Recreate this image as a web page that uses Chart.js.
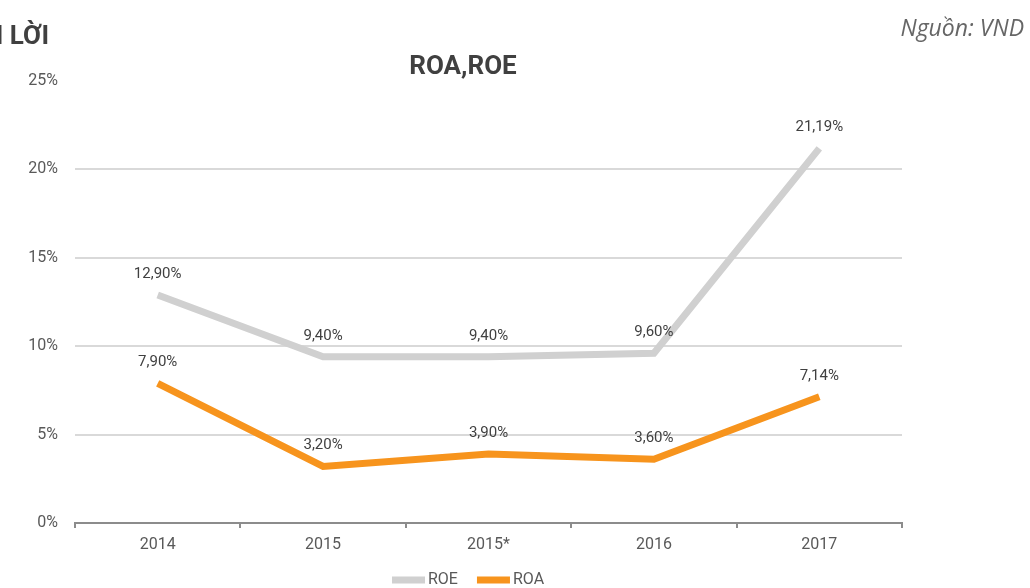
<!DOCTYPE html>
<html>
<head>
<meta charset="utf-8">
<script src="https://cdn.jsdelivr.net/npm/chart.js@4/dist/chart.umd.min.js"></script>
<style>
  html, body { margin: 0; padding: 0; background: #fff; }
  #wrap { position: relative; width: 1030px; height: 588px; }
</style>
</head>
<body>
<div id="wrap"><canvas id="c" width="1030" height="588"></canvas></div>
<script>
const categories = ['2014', '2015', '2015*', '2016', '2017'];
const roeValues = [12.90, 9.40, 9.40, 9.60, 21.19];
const roaValues = [7.90, 3.20, 3.90, 3.60, 7.14];
const yTicks = [0, 5, 10, 15, 20, 25];

const ROE_COLOR = '#d0d0d0';
const ROA_COLOR = '#f7941d';
const TEXT = '#595959';
const FONT = 'Roboto, "Noto Sans", sans-serif';

const fmt = v => v.toFixed(2).replace('.', ',') + '%';

// value labels above each point, plus headings and legend
const decorations = {
  id: 'decorations',
  afterDatasetsDraw(chart) {
    const ctx = chart.ctx;
    ctx.save();
    ctx.font = '15px ' + FONT;
    ctx.fillStyle = '#404040';
    ctx.textAlign = 'center';
    ctx.textBaseline = 'middle';
    chart.data.datasets.forEach((ds, i) => {
      chart.getDatasetMeta(i).data.forEach((pt, j) => {
        ctx.fillText(fmt(ds.data[j]), pt.x, pt.y - 21);
      });
    });

    // headings
    ctx.textBaseline = 'alphabetic';
    ctx.fillStyle = '#404040';
    ctx.font = 'bold 26px ' + FONT;
    ctx.textAlign = 'center';
    ctx.fillText('ROA,ROE', 463, 74);
    ctx.textAlign = 'right';
    ctx.fillText('I LỜI', 49, 44);

    ctx.fillStyle = '#666666';
    ctx.font = 'italic 23px "Open Sans", ' + FONT;
    ctx.textAlign = 'right';
    ctx.fillText('Nguồn: VND', 1024, 36);

    // legend
    ctx.textBaseline = 'middle';
    ctx.font = '16px ' + FONT;
    ctx.textAlign = 'left';
    let x = 392;
    const y = 580;
    chart.data.datasets.forEach(ds => {
      ctx.fillStyle = ds.borderColor;
      ctx.fillRect(x, y - 3.5, 33, 7);
      ctx.fillStyle = TEXT;
      ctx.fillText(ds.label, x + 36, y);
      x += 36 + ctx.measureText(ds.label).width + 19;
    });
    ctx.restore();
  }
};

new Chart(document.getElementById('c'), {
  type: 'line',
  data: {
    labels: categories,
    datasets: [
      { label: 'ROE', data: roeValues, borderColor: ROE_COLOR, backgroundColor: ROE_COLOR,
        borderWidth: 7, pointRadius: 0, tension: 0, borderCapStyle: 'butt' },
      { label: 'ROA', data: roaValues, borderColor: ROA_COLOR, backgroundColor: ROA_COLOR,
        borderWidth: 7, pointRadius: 0, tension: 0, borderCapStyle: 'butt' }
    ]
  },
  options: {
    responsive: false,
    animation: false,
    devicePixelRatio: 1,
    layout: { padding: { left: 0, right: 128, top: 81, bottom: 0 } },
    plugins: { legend: { display: false }, tooltip: { enabled: false } },
    scales: {
      x: {
        offset: true,
        grid: { offset: true, drawOnChartArea: false, drawTicks: true, tickLength: 5,
                color: '#8c8c8c', lineWidth: 2 },
        border: { color: '#8c8c8c', width: 2 },
        ticks: { color: TEXT, font: { family: FONT, size: 16 }, padding: 7 },
        afterFit(s) { s.height = 65; }
      },
      y: {
        min: 0, max: 25,
        afterBuildTicks(s) { s.ticks = yTicks.map(v => ({ value: v })); },
        grid: {
          drawTicks: false,
          lineWidth: 2,
          color: c => (c.tick && c.tick.value === 25) ? 'rgba(0,0,0,0)' : '#d9d9d9'
        },
        border: { display: false },
        ticks: { color: TEXT, font: { family: FONT, size: 16 }, padding: 17,
                 callback: v => v + '%' },
        afterFit(s) { s.width = 75; }
      }
    }
  },
  plugins: [decorations]
});
</script>
</body>
</html>
